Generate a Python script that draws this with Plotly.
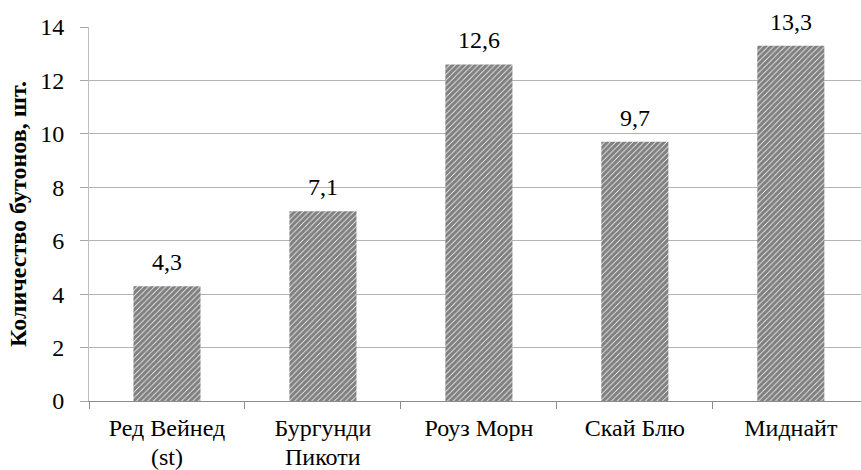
import plotly.graph_objects as go

categories = ["Ред Вейнед (st)", "Бургунди Пикоти", "Роуз Морн", "Скай Блю", "Миднайт"]
label_line1 = ["Ред Вейнед", "Бургунди", "Роуз Морн", "Скай Блю", "Миднайт"]
label_line2 = ["(st)", "Пикоти", "", "", ""]
values = [4.3, 7.1, 12.6, 9.7, 13.3]
labels = ["4,3", "7,1", "12,6", "9,7", "13,3"]
y_ticks = [0, 2, 4, 6, 8, 10, 12, 14]

FONT = "Liberation Serif"
FS = 24

fig = go.Figure()
fig.add_trace(go.Bar(
    x=categories,
    y=values,
    marker=dict(
        color="white",
        line=dict(width=0),
        pattern=dict(shape="/", fgcolor="black", bgcolor="white", size=4, solidity=0.8),
    ),
    hoverinfo="skip",
))

for c, v, t in zip(categories, values, labels):
    fig.add_annotation(x=c, y=v, text=t, showarrow=False, yanchor="bottom", yshift=9,
                       font=dict(family=FONT, size=FS, color="#000000"))

for c, t in zip(categories, label_line2):
    if t:
        fig.add_annotation(x=c, y=0, yref="paper", text=t, showarrow=False, yanchor="top",
                           yshift=-41, font=dict(family=FONT, size=FS, color="#000000"))

fig.update_layout(
    width=861, height=470,
    margin=dict(l=89, r=0, t=27, b=69),
    paper_bgcolor="white", plot_bgcolor="white",
    bargap=0.57,
    showlegend=False,
    font=dict(family=FONT, size=FS, color="#000000"),
    xaxis=dict(
        range=[-0.5, 4.45],
        tickvals=categories, ticktext=label_line1,
        showline=True, linecolor="#8c8c8c", linewidth=1,
        ticks="outside", tickson="boundaries", ticklen=7, tickcolor="#8c8c8c",
        showgrid=False,
        ticklabelstandoff=5,
        tickfont=dict(family=FONT, size=FS, color="#000000"),
    ),
    yaxis=dict(
        range=[0, 14],
        tickvals=y_ticks,
        showline=True, linecolor="#bfbfbf", linewidth=1,
        ticks="outside", ticklen=8, tickcolor="#a6a6a6",
        showgrid=True, gridcolor="#b3b3b3", gridwidth=1,
        zeroline=False,
        ticklabelstandoff=11,
        tickfont=dict(family=FONT, size=FS, color="#000000"),
        title=dict(text="<b>Количество бутонов, шт.</b>", font=dict(family=FONT, size=FS, color="#000000"), standoff=6),
    ),
)

fig.write_html("out.html", config={"displayModeBar": False}, post_script="document.body.style.margin='0';")
